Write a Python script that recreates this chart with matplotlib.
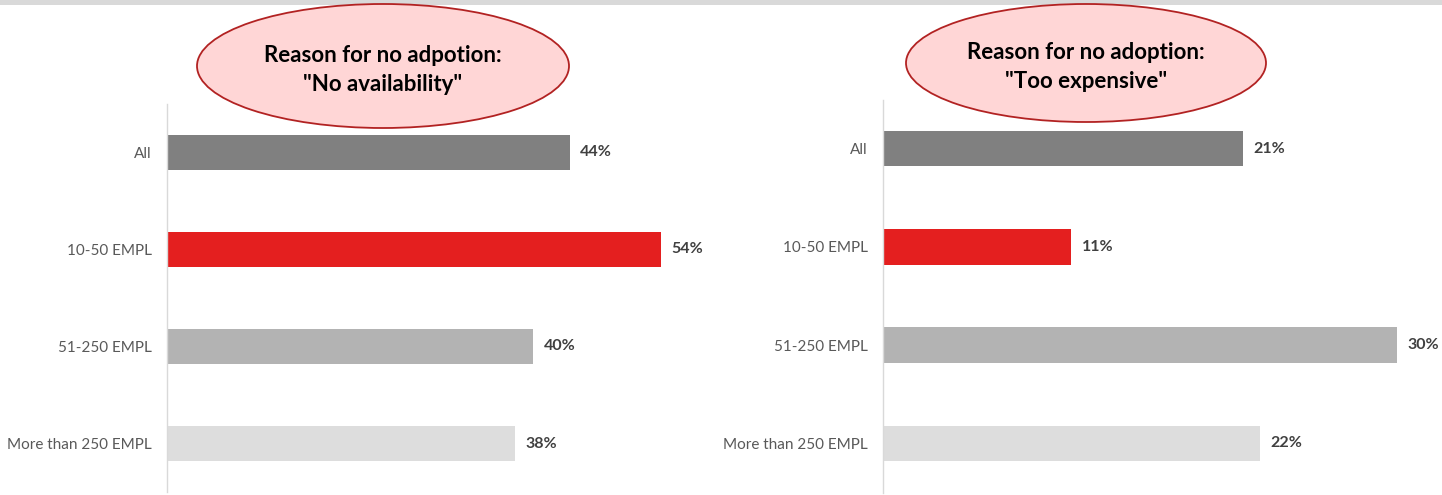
import matplotlib
matplotlib.use("Agg")
import matplotlib.pyplot as plt
from matplotlib.patches import Ellipse, Rectangle

plt.rcParams['font.family'] = ['Lato', 'DejaVu Sans']

categories = ["All", "10-50 EMPL", "51-250 EMPL", "More than 250 EMPL"]
no_availability = [44, 54, 40, 38]
too_expensive = [21, 11, 30, 22]
titles = ['Reason for no adpotion:\n"No availability"',
          'Reason for no adoption:\n"Too expensive"']

bar_colors = ["#808080", "#e41f1f", "#b3b3b3", "#dddddd"]
label_color = "#595959"
value_color = "#404040"
axis_color = "#d9d9d9"

W, H = 1442, 495
fig = plt.figure(figsize=(W / 100, H / 100), dpi=100)


def px_axes(x0, y0, x1, y1):
    """Axes placed by pixel box (top-left origin)."""
    return fig.add_axes([x0 / W, 1 - y1 / H, (x1 - x0) / W, (y1 - y0) / H])


def bar_panel(ax, values, xmax):
    ypos = range(len(categories))
    ax.barh(ypos, values, height=0.36, color=bar_colors, zorder=2)
    ax.set_xlim(0, xmax)
    ax.set_ylim(len(categories) - 0.5, -0.5)
    ax.set_yticks(list(ypos))
    ax.set_yticklabels(categories, color=label_color, fontsize=11)
    ax.tick_params(axis='y', length=0, pad=11)
    ax.set_xticks([])
    for side in ("top", "right", "bottom"):
        ax.spines[side].set_visible(False)
    ax.spines["left"].set_color(axis_color)
    ax.spines["left"].set_linewidth(1.0)
    for y, v in zip(ypos, values):
        ax.annotate(f"{v}%", xy=(v, y), xytext=(7.5, 0), textcoords="offset points",
                    ha="left", va="center", fontsize=11.5, fontweight="bold",
                    color=value_color)


ax_left = px_axes(167, 104, 167 + 549, 492)
bar_panel(ax_left, no_availability, 60)

ax_right = px_axes(883, 99.5, 883 + 548, 492.5)
bar_panel(ax_right, too_expensive, 32)

# overlay in pixel coordinates for the header stripe and title bubbles
ov = fig.add_axes([0, 0, 1, 1])
ov.set_xlim(0, W)
ov.set_ylim(H, 0)
ov.axis("off")
ov.add_patch(Rectangle((0, 0), W, 4.5, color="#d9d9d9", lw=0))

bubbles = [(383, 66, 372, 124), (1086, 63, 360, 118)]
for (cx, cy, w, h), title in zip(bubbles, titles):
    ov.add_patch(Ellipse((cx, cy), w, h, facecolor="#ffd6d6",
                         edgecolor="#b22222", linewidth=1.3))
    ov.text(cx, cy + 4, title, ha="center", va="center", fontsize=16,
            fontweight="bold", color="black", linespacing=1.45)

fig.savefig("out.png", dpi=100)
